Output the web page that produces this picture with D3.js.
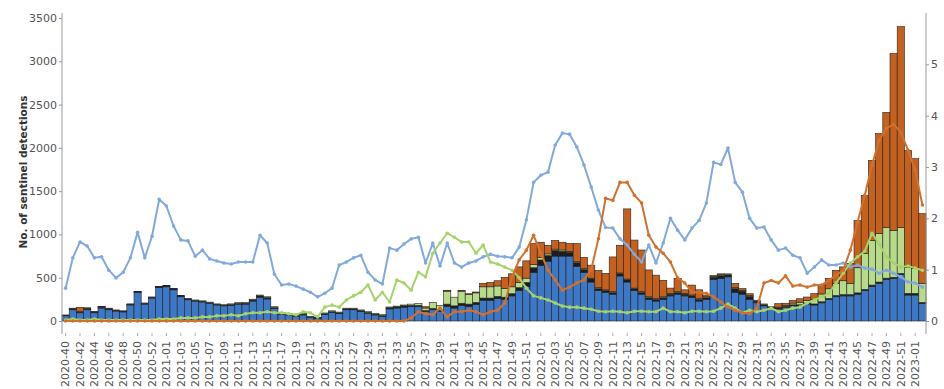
<!DOCTYPE html>
<html><head><meta charset="utf-8">
<script src="https://cdn.jsdelivr.net/npm/d3@7"></script>
<style>body{margin:0;background:#fff}svg{display:block}</style>
</head><body><svg id="c" width="944" height="389"></svg>
<script>
const weeks = [
"2020-40","2020-41","2020-42","2020-43","2020-44","2020-45","2020-46","2020-47","2020-48","2020-49","2020-50","2020-51","2020-52","2020-53",
"2021-01","2021-02","2021-03","2021-04","2021-05","2021-06","2021-07","2021-08","2021-09","2021-10","2021-11","2021-12","2021-13","2021-14","2021-15","2021-16","2021-17","2021-18","2021-19","2021-20","2021-21","2021-22","2021-23","2021-24","2021-25","2021-26",
"2021-27","2021-28","2021-29","2021-30","2021-31","2021-32","2021-33","2021-34","2021-35","2021-36","2021-37","2021-38","2021-39","2021-40","2021-41","2021-42","2021-43","2021-44","2021-45","2021-46","2021-47","2021-48","2021-49","2021-50","2021-51","2021-52",
"2022-01","2022-02","2022-03","2022-04","2022-05","2022-06","2022-07","2022-08","2022-09","2022-10","2022-11","2022-12","2022-13","2022-14","2022-15","2022-16","2022-17","2022-18","2022-19","2022-20","2022-21","2022-22","2022-23","2022-24","2022-25","2022-26",
"2022-27","2022-28","2022-29","2022-30","2022-31","2022-32","2022-33","2022-34","2022-35","2022-36","2022-37","2022-38","2022-39","2022-40","2022-41","2022-42","2022-43","2022-44","2022-45","2022-46","2022-47","2022-48","2022-49","2022-50","2022-51","2022-52",
"2023-01","2023-02"];
const tickLabels = ["2020-40","2020-42","2020-44","2020-46","2020-48","2020-50","2020-52","2021-01","2021-03","2021-05","2021-07","2021-09","2021-11","2021-13","2021-15","2021-17","2021-19","2021-21","2021-23","2021-25","2021-27","2021-29","2021-31","2021-33","2021-35","2021-37","2021-39","2021-41","2021-43","2021-45","2021-47","2021-49","2021-51","2022-01","2022-03","2022-05","2022-07","2022-09","2022-11","2022-13","2022-15","2022-17","2022-19","2022-21","2022-23","2022-25","2022-27","2022-29","2022-31","2022-33","2022-35","2022-37","2022-39","2022-41","2022-43","2022-45","2022-47","2022-49","2022-51","2023-01"];

// stacked bar series (No. of sentinel detections)
const blueBars = [60,130,95,130,95,150,130,115,105,185, 330,195,265,385,395,360,280,245,230,220, 205,185,175,180,195,195,230,275,255,145, 80,70,55,70,40,30,75,100,85,130, 130,110,90,70,55,140,150,160,165,165, 110,130,110,170,150,180,170,190,240,240, 260,250,290,350,400,560,640,690,750,750, 750,630,560,450,350,330,310,520,450,350, 310,250,230,250,290,310,290,270,230,250, 480,490,510,330,310,250,210,175,150,140, 160,175,175,195,185,210,250,280,290,290, 310,350,400,435,480,490,535,300,300,200];
const blackBars = [5,8,8,8,8,8,8,8,8,8, 8,8,8,10,10,10,10,8,8,8, 8,8,8,8,8,10,12,15,15,10, 8,8,8,8,5,5,8,8,8,8, 8,8,8,8,8,12,12,15,15,15, 10,15,15,25,25,25,25,25,25,25, 25,25,25,35,45,55,65,65,65,55, 45,45,35,35,25,20,20,25,25,20, 20,20,20,20,20,20,20,20,20,20, 25,35,25,45,35,35,20,12,8,10, 10,12,12,12,12,12,12,15,15,15, 15,15,15,15,15,15,15,20,20,15];
const greenBars = [0,5,5,5,0,5,5,0,0,0, 0,0,0,0,0,5,5,5,5,5, 5,5,5,10,10,10,10,10,10,10, 10,10,10,10,10,5,10,10,10,10, 10,10,10,10,10,10,10,10,15,20, 30,70,55,150,100,140,110,110,130,130, 120,100,80,60,50,40,30,20,15,15, 10,10,10,10,10,10,10,10,10,10, 10,10,10,10,10,10,10,10,10,10, 10,10,10,10,10,10,10,10,10,10, 10,20,30,30,50,90,110,140,160,130, 290,415,515,560,585,540,530,300,285,220];
const orangeBars = [5,5,50,10,5,5,5,5,5,5, 5,5,5,5,5,0,0,0,0,0, 0,0,0,0,0,0,0,0,0,0, 0,0,0,0,0,0,0,0,0,0, 0,0,0,0,0,0,0,0,0,0, 15,0,0,10,0,10,10,10,40,50, 60,130,150,180,200,240,175,100,100,90, 90,210,130,150,200,190,400,320,810,555, 480,310,270,190,60,150,40,115,100,20, 10,10,0,50,20,20,0,0,0,40, 25,30,40,40,70,105,120,150,160,230, 545,670,925,1155,1330,2045,2320,1350,1270,805];

// line series (right axis)
const blueLine = [0.64,1.23,1.54,1.46,1.23,1.25,0.99,0.84,0.95,1.23, 1.73,1.23,1.65,2.37,2.24,1.85,1.58,1.56,1.26,1.38, 1.21,1.17,1.13,1.11,1.15,1.15,1.15,1.67,1.52,0.91, 0.70,0.72,0.68,0.62,0.56,0.47,0.54,0.64,1.09,1.15, 1.23,1.28,0.95,0.80,0.72,1.42,1.38,1.50,1.60,1.63, 1.13,1.52,1.07,1.52,1.13,1.05,1.13,1.17,1.25,1.30, 1.26,1.25,1.23,1.44,1.97,2.70,2.84,2.90,3.43,3.66, 3.64,3.39,3.04,2.61,2.16,1.82,1.81,1.60,1.48,1.30, 1.15,1.48,1.13,1.52,2.00,1.77,1.58,1.81,1.96,2.30, 3.09,3.05,3.37,2.70,2.51,2.00,1.81,1.83,1.58,1.38, 1.42,1.28,1.23,0.93,1.05,1.19,1.09,1.09,1.13,1.05, 1.09,1.03,1.01,0.93,0.99,0.93,0.86,0.76,0.74,0.66];
const greenLine = [0.02,0.04,0.02,0.02,0.04,0.02,0.02,0.02,0.02,0.02, 0.02,0.02,0.02,0.04,0.04,0.04,0.06,0.06,0.06,0.08, 0.08,0.10,0.10,0.12,0.10,0.14,0.16,0.16,0.18,0.16, 0.16,0.14,0.12,0.18,0.16,0.08,0.27,0.31,0.27,0.41, 0.49,0.56,0.70,0.41,0.56,0.37,0.80,0.74,0.60,0.95, 0.86,1.32,1.52,1.71,1.63,1.54,1.54,1.32,1.48,1.15, 1.11,1.05,0.99,0.84,0.64,0.49,0.45,0.41,0.35,0.29, 0.27,0.27,0.25,0.23,0.19,0.18,0.19,0.18,0.16,0.19, 0.19,0.18,0.18,0.25,0.18,0.18,0.16,0.19,0.19,0.18, 0.19,0.25,0.33,0.25,0.16,0.21,0.18,0.21,0.25,0.18, 0.21,0.25,0.27,0.35,0.41,0.47,0.54,0.74,0.93,1.13, 1.25,1.36,1.71,1.50,1.25,1.13,1.05,1.07,1.03,0.99];
const orangeLine = [0,0,0,0,0,0,0,0,0,0, 0,0,0,0,0,0,0,0,0,0, 0,0,0,0,0,0,0,0,0,0, 0,0,0,0,0,0,0,0,0,0, 0,0,0,0,0,0,0,0,0.06,0.18, 0.14,0.12,0.25,0.08,0.18,0.18,0.21,0.18,0.12,0.18, 0.21,0.35,0.86,1.19,1.38,1.67,1.32,0.99,0.80,0.60, 0.66,0.74,0.80,1.00,1.60,2.39,2.35,2.70,2.70,2.45, 2.30,1.67,1.44,1.32,1.15,0.84,0.74,0.56,0.56,0.54, 0.47,0.37,0.27,0.21,0.16,0.14,0.25,0.74,0.79,0.74, 0.88,0.68,0.70,0.66,0.70,0.70,0.79,0.89,0.99,1.38, 1.93,2.45,3.04,3.52,3.75,3.83,3.68,3.33,2.94,2.26];

const leftTicks = [0,500,1000,1500,2000,2500,3000,3500];
const rightTicks = [0,1,2,3,4,5];
const seriesKeys = ["blue","black","green","orange"];
const barColors = {blue:"#3d78c6", black:"#1c1c1c", green:"#b8da8b", orange:"#c4611e"};
const lineColors = {blue:"#82a9de", green:"#a6d36b", orange:"#d2702d"};

const svg = d3.select("#c");
const font = "'DejaVu Sans', sans-serif";

const x = d3.scaleBand().domain(weeks).range([62, 926]).padding(0);
const yL = d3.scaleLinear().domain([0, 3558]).range([321, 13]);
const yR = d3.scaleLinear().domain([0, 6]).range([321, 13]);

const rows = weeks.map((w, i) => ({week: w, blue: blueBars[i], black: blackBars[i], green: greenBars[i], orange: orangeBars[i]}));
const stacked = d3.stack().keys(seriesKeys)(rows);

svg.append("g").selectAll("g").data(stacked).join("g")
  .attr("fill", d => barColors[d.key])
  .selectAll("rect").data(d => d.filter(s => s[1] - s[0] > 0)).join("rect")
  .attr("x", d => x(d.data.week))
  .attr("width", x.bandwidth())
  .attr("y", d => yL(d[1]))
  .attr("height", d => yL(d[0]) - yL(d[1]))
  .attr("stroke", "#222").attr("stroke-width", 0.6);

const lines = [
  {key:"blue", vals: blueLine},
  {key:"green", vals: greenLine},
  {key:"orange", vals: orangeLine}
];
const lineGen = d3.line().x((d, i) => x(weeks[i]) + x.bandwidth()/2).y(d => yR(d));
lines.forEach(l => {
  svg.append("path").datum(l.vals).attr("d", lineGen)
    .attr("fill", "none").attr("stroke", lineColors[l.key]).attr("stroke-width", 2)
    .attr("stroke-linejoin", "round");
  svg.append("g").selectAll("circle").data(l.vals).join("circle")
    .attr("cx", (d, i) => x(weeks[i]) + x.bandwidth()/2)
    .attr("cy", d => yR(d)).attr("r", 1.8)
    .attr("fill", lineColors[l.key]);
});

// left axis
const gL = svg.append("g").attr("transform", "translate(62,0)")
  .call(d3.axisLeft(yL).tickValues(leftTicks).tickSize(3).tickPadding(2).tickFormat(d3.format("d")));
gL.select(".domain").remove();
gL.append("line").attr("x1", 0).attr("x2", 0).attr("y1", 13).attr("y2", 334).attr("stroke", "#9a9a9a");
gL.selectAll(".tick line").attr("stroke", "#9a9a9a");
gL.selectAll("text").attr("fill", "#555").style("font-family", font).style("font-size", "11px");

// right axis
const gR = svg.append("g").attr("transform", "translate(926,0)")
  .call(d3.axisRight(yR).tickValues(rightTicks).tickSize(3).tickPadding(2).tickFormat(d3.format("d")));
gR.select(".domain").remove();
gR.append("line").attr("x1", 0).attr("x2", 0).attr("y1", 13).attr("y2", 334).attr("stroke", "#9a9a9a");
gR.selectAll(".tick line").attr("stroke", "#9a9a9a");
gR.selectAll("text").attr("fill", "#555").style("font-family", font).style("font-size", "11px");

// x axis
const gX = svg.append("g").attr("transform", "translate(0,333)")
  .call(d3.axisBottom(x).tickValues(tickLabels).tickSize(3).tickPadding(0));
gX.select(".domain").remove();
gX.selectAll(".tick line").attr("stroke", "#aaa");
gX.selectAll("text")
  .attr("text-anchor", "end")
  .attr("transform", "translate(0,8) rotate(-90)")
  .attr("x", 0).attr("y", 0).attr("dy", "0.35em")
  .attr("fill", "#555").style("font-family", font).style("font-size", "11px");

// y title
svg.append("text")
  .attr("transform", "translate(27,172) rotate(-90)")
  .attr("text-anchor", "middle")
  .style("font-family", font).style("font-size", "10.5px").style("font-weight", "bold")
  .attr("fill", "#333")
  .text("No. of sentinel detections");
</script>
</body></html>
